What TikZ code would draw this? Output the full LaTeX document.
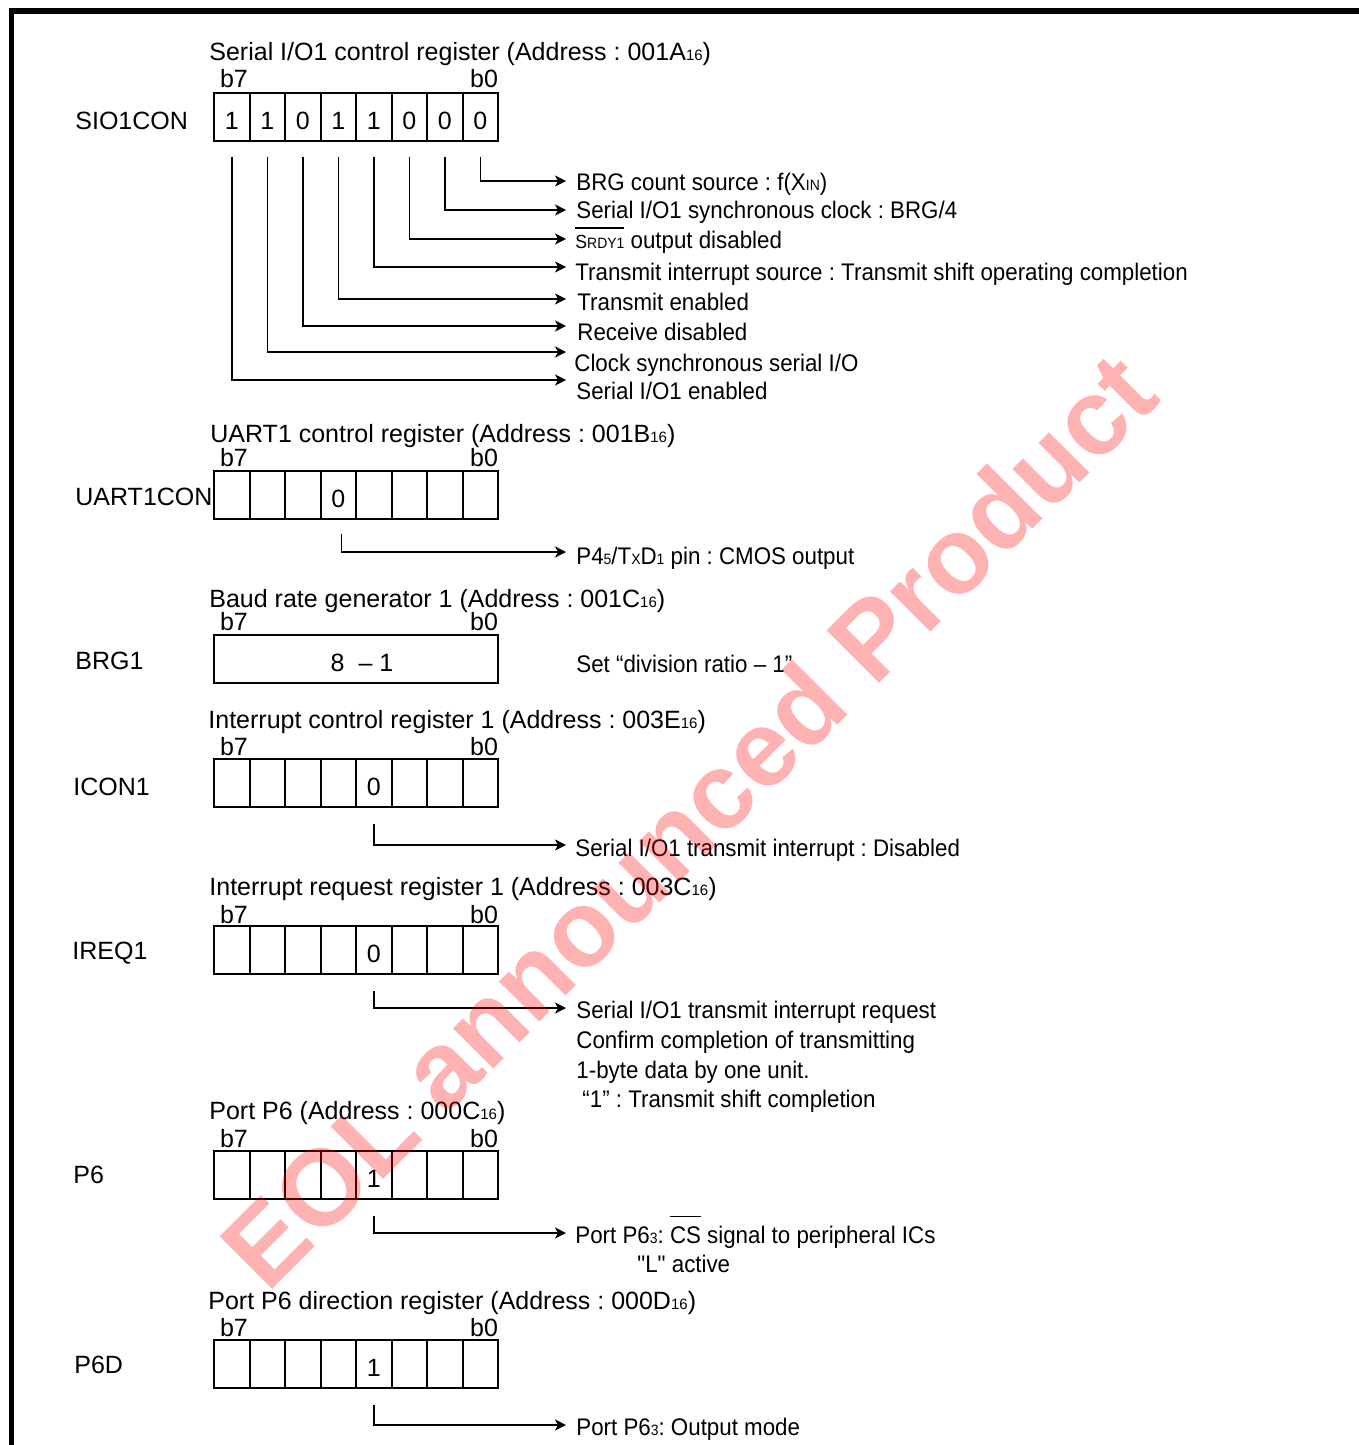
\documentclass[tikz,border=0pt]{standalone}
\usepackage{fontspec}
\setmainfont{Liberation Sans}
\newfontfamily\descfont[FakeStretch=0.93]{Liberation Sans}
\usetikzlibrary{arrows.meta}

\newcommand\regsub[1]{{\fontsize{7.5}{9}\selectfont #1}}
\newcommand\regbar[2]{\leavevmode\vbox{\hrule height 0.75pt\kern #1\hbox{#2}}}
\frenchspacing

\begin{document}
\begin{tikzpicture}[
  x=0.5pt, y=-0.5pt,
  font=\fontsize{12.5}{15}\selectfont,
  cell/.style={draw, line width=1pt, minimum width=17.75pt, minimum height=24pt,
    inner sep=0pt, text height=12.5pt, text depth=0pt},
  txt/.style={anchor=base west, inner sep=0pt},
  desc/.style={anchor=base west, inner sep=0pt, font=\descfont\fontsize{12}{14}\selectfont},
  bitlbl/.style={anchor=base, inner sep=0pt},
  lead/.style={line width=0.75pt, -{Stealth[length=5.5pt, width=5.5pt, inset=1.5pt]}},
  frame/.style={line width=2.75pt, line join=miter}
]
  \useasboundingbox (0,0) rectangle (1359,1445);

  % Marco
  \draw[frame] (11.5,1445) -- (11.5,11) -- (1359,11);

  % SIO1CON
  \node[txt] (siot) at (209,61) {Serial I/O1 control register (Address : 001A\regsub{16})};
  \node[bitlbl] (siob7) at (234,88) {b7};
  \node[bitlbl] (siob0) at (484,88) {b0};
  \node[txt] (sion) at (75,130) {SIO1CON};
  \foreach \v [count=\k] in {1,1,0,1,1,0,0,0}
    \node[cell] (sioc\k) at (196.25+35.5*\k, 117.5) {\v};
  \foreach \k/\y in {8/181,7/210,6/239,5/267,4/299,3/326,2/352,1/380}
    \coordinate (sioe\k) at (566,\y);
  \node[desc] (siod8) at (576,190) {BRG count source : f(X\regsub{IN})};
  \node[desc] (siod7) at (576,218) {Serial I/O1 synchronous clock : BRG/4};
  \node[desc] (siod6) at (575,248) {\regbar{3pt}{{\fontsize{9.5}{11}\selectfont S}\regsub{RDY1}} output disabled};
  \node[desc] (siod5) at (575,280) {Transmit interrupt source : Transmit shift operating completion};
  \node[desc] (siod4) at (577,310) {Transmit enabled};
  \node[desc] (siod3) at (577,340) {Receive disabled};
  \node[desc] (siod2) at (574,371) {Clock synchronous serial I/O};
  \node[desc] (siod1) at (576,399) {Serial I/O1 enabled};
  \foreach \k in {1,...,8}
    \draw[lead] ([yshift=-7pt]sioc\k.south) |- (sioe\k);

  % UART1CON
  \node[txt] (uartt) at (210,442) {UART1 control register (Address : 001B\regsub{16})};
  \node[bitlbl] (uartb7) at (234,466) {b7};
  \node[bitlbl] (uartb0) at (484,466) {b0};
  \node[txt] (uartn) at (75,505) {UART1CON};
  \foreach \v [count=\k] in {{},{},{},0,{},{},{},{}}
    \node[cell] (uartc\k) at (196.25+35.5*\k, 495) {\v};
  \coordinate (uarte) at (566,552);
  \node[desc] (uartd) at (576,564) {P4\regsub{5}/T\regsub{X}D\regsub{1} pin : CMOS output};
  \draw[lead] ([xshift=1.5pt, yshift=-7pt]uartc4.south) |- (uarte);

  % BRG1
  \node[txt] (brgt) at (209,607) {Baud rate generator 1 (Address : 001C\regsub{16})};
  \node[bitlbl] (brgb7) at (234,630) {b7};
  \node[bitlbl] (brgb0) at (484,630) {b0};
  \node[txt] (brgn) at (75,669) {BRG1};
  \node[cell, minimum width=142pt] (brgc) at (356,659) {\hspace{6pt}8~~–~1};
  \node[desc] (brgd) at (576,672) {Set “division ratio – 1”};

  % ICON1
  \node[txt] (icont) at (208,728) {Interrupt control register 1 (Address : 003E\regsub{16})};
  \node[bitlbl] (iconb7) at (234,755) {b7};
  \node[bitlbl] (iconb0) at (484,755) {b0};
  \node[txt] (iconn) at (73,795) {ICON1};
  \foreach \v [count=\k] in {{},{},{},{},0,{},{},{}}
    \node[cell] (iconc\k) at (196.25+35.5*\k, 783) {\v};
  \coordinate (icone) at (566,845);
  \node[desc] (icond) at (575,856) {Serial I/O1 transmit interrupt : Disabled};
  \draw[lead] ([yshift=-8pt]iconc5.south) |- (icone);

  % IREQ1
  \node[txt] (ireqt) at (209,895) {Interrupt request register 1 (Address : 003C\regsub{16})};
  \node[bitlbl] (ireqb7) at (234,923) {b7};
  \node[bitlbl] (ireqb0) at (484,923) {b0};
  \node[txt] (ireqn) at (72,959) {IREQ1};
  \foreach \v [count=\k] in {{},{},{},{},0,{},{},{}}
    \node[cell] (ireqc\k) at (196.25+35.5*\k, 950) {\v};
  \coordinate (ireqe) at (566,1008);
  \node[desc] (ireqd1) at (576,1018) {Serial I/O1 transmit interrupt request};
  \node[desc] (ireqd2) at (576,1048) {Confirm completion of transmitting};
  \node[desc] (ireqd3) at (576,1078) {1-byte data by one unit.};
  \node[desc] (ireqd4) at (582,1107) {“1” : Transmit shift completion};
  \draw[lead] ([yshift=-8pt]ireqc5.south) |- (ireqe);

  % P6
  \node[txt] (psixt) at (209,1119) {Port P6 (Address : 000C\regsub{16})};
  \node[bitlbl] (psixb7) at (234,1147) {b7};
  \node[bitlbl] (psixb0) at (484,1147) {b0};
  \node[txt] (psixn) at (73,1183) {P6};
  \foreach \v [count=\k] in {{},{},{},{},1,{},{},{}}
    \node[cell] (psixc\k) at (196.25+35.5*\k, 1174.5) {\v};
  \coordinate (psixe) at (566,1233);
  \node[desc] (psixd1) at (575,1243) {Port P6\regsub{3}: \regbar{4.5pt}{CS} signal to peripheral ICs};
  \node[desc] (psixd2) at (637,1272) {\char34 L\char34{} active};
  \draw[lead] ([yshift=-8pt]psixc5.south) |- (psixe);

  % P6D
  \node[txt] (pdirt) at (208,1309) {Port P6 direction register (Address : 000D\regsub{16})};
  \node[bitlbl] (pdirb7) at (234,1336) {b7};
  \node[bitlbl] (pdirb0) at (484,1336) {b0};
  \node[txt] (pdirn) at (74,1373) {P6D};
  \foreach \v [count=\k] in {{},{},{},{},1,{},{},{}}
    \node[cell] (pdirc\k) at (196.25+35.5*\k, 1364) {\v};
  \coordinate (pdire) at (566,1425);
  \node[desc] (pdird) at (576,1435) {Port P6\regsub{3}: Output mode};
  \draw[lead] ([yshift=-8pt]pdirc5.south) |- (pdire);

  % Marca de agua
  \node[rotate=45, text=red, opacity=0.3, font=\fontsize{54}{58}\selectfont\bfseries]
    (wmark) at (688,820) {EOL announced Product};
\end{tikzpicture}
\end{document}
